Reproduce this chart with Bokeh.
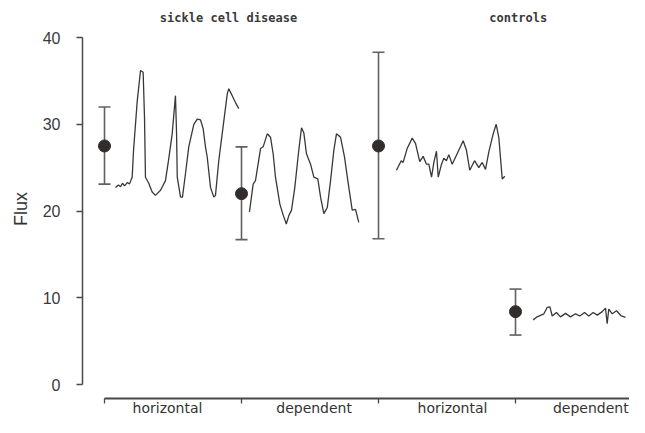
from bokeh.plotting import figure
from bokeh.models import Range1d, FixedTicker, Whisker, ColumnDataSource, TeeHead
from bokeh.core.properties import value
from bokeh.embed import file_html
from bokeh.resources import INLINE

# ---- data ----
groups = ["horizontal", "dependent", "horizontal", "dependent"]
panels = ["sickle cell disease", "controls"]
group_pos = [0, 1, 2, 3]
means = [27.5, 22.0, 27.5, 8.4]
lowers = [23.1, 16.7, 16.8, 5.7]
uppers = [32.0, 27.4, 38.3, 11.0]

# flux tracings (time expressed as fraction of the group slot)
t1 = [0.080, 0.102, 0.117, 0.131, 0.146, 0.168, 0.182, 0.202, 0.212, 0.239, 0.263, 0.282,
      0.292, 0.299, 0.323, 0.348, 0.372, 0.409, 0.445, 0.467, 0.494, 0.518, 0.526, 0.531,
      0.555, 0.569, 0.591, 0.615, 0.652, 0.677, 0.701, 0.720, 0.737, 0.750, 0.774, 0.798,
      0.810, 0.834, 0.859, 0.896, 0.907, 0.932, 0.956, 0.980]
f1 = [22.7, 23.0, 22.8, 23.2, 22.9, 23.3, 23.1, 23.9, 27.0, 32.7, 36.2, 36.0,
      30.8, 23.9, 23.2, 22.2, 21.8, 22.4, 23.5, 25.8, 28.9, 33.3, 28.9, 23.9,
      21.6, 21.6, 24.3, 27.4, 30.0, 30.6, 30.5, 29.5, 27.4, 26.2, 22.7, 21.6,
      21.8, 25.8, 28.9, 33.5, 34.1, 33.3, 32.5, 31.8]

t2 = [0.058, 0.085, 0.102, 0.139, 0.158, 0.188, 0.212, 0.231, 0.248, 0.280, 0.305, 0.327,
      0.346, 0.365, 0.389, 0.418, 0.438, 0.455, 0.474, 0.504, 0.528, 0.557, 0.577, 0.601,
      0.626, 0.650, 0.674, 0.693, 0.723, 0.752, 0.776, 0.808, 0.832, 0.856]
f2 = [19.9, 23.1, 23.5, 27.2, 27.4, 28.9, 28.5, 26.6, 23.9, 20.8, 19.5, 18.5,
      19.5, 20.1, 22.7, 27.0, 29.6, 29.0, 26.6, 25.4, 23.9, 23.7, 21.6, 19.7,
      20.4, 23.5, 27.0, 28.9, 28.5, 26.2, 23.5, 20.1, 20.2, 18.7]

t3 = [0.131, 0.166, 0.180, 0.209, 0.246, 0.270, 0.301, 0.326, 0.350, 0.367, 0.387, 0.404,
      0.423, 0.436, 0.458, 0.477, 0.496, 0.513, 0.538, 0.574, 0.618, 0.642, 0.666, 0.701,
      0.732, 0.757, 0.781, 0.805, 0.837, 0.859, 0.878, 0.903, 0.922]
f3 = [24.7, 25.8, 25.6, 27.2, 28.4, 27.8, 25.7, 26.3, 25.4, 25.4, 23.9, 25.6,
      26.9, 23.9, 25.3, 26.1, 25.8, 26.5, 25.4, 26.6, 28.1, 27.0, 24.7, 25.8,
      25.0, 25.6, 24.8, 26.8, 28.9, 30.0, 28.5, 23.7, 24.0]

t4 = [0.129, 0.158, 0.207, 0.232, 0.251, 0.268, 0.299, 0.328, 0.365, 0.401, 0.438, 0.469,
      0.504, 0.535, 0.567, 0.597, 0.633, 0.657, 0.669, 0.681, 0.706, 0.737, 0.772, 0.803]
f4 = [7.45, 7.8, 8.15, 8.9, 8.95, 7.9, 8.3, 7.8, 8.2, 7.8, 8.15, 7.9,
      8.3, 7.9, 8.3, 8.0, 8.4, 8.8, 7.0, 8.7, 8.15, 8.5, 7.9, 7.75]

y_ticks = [0, 10, 20, 30, 40]

# ---- layout constants ----
label_pos = [0.46, 1.53, 2.54, 3.55]
axis_y = -1.614
panel_pos = [0.905, 3.02]
panel_y = 42.2

p = figure(width=629, height=417, output_backend="svg", toolbar_location=None,
           x_range=Range1d(-0.1606, 3.832), y_range=Range1d(-3.804, 44.27),
           min_border_left=82, min_border_right=0, min_border_top=0, min_border_bottom=0)
p.outline_line_color = None
p.grid.visible = False
p.background_fill_color = "white"

# traces
traces = [(t1, f1), (t2, f2), (t3, f3), (t4, f4)]
for g, (t, f) in zip(group_pos, traces):
    p.line([g + v for v in t], f, line_color="#383838", line_width=1.3)

# error bars
src = ColumnDataSource(dict(x=group_pos, m=means, lo=lowers, up=uppers))
w = Whisker(base="x", upper="up", lower="lo", source=src, dimension="height",
            line_color="#606060", line_width=1.6,
            upper_head=TeeHead(size=12, line_color="#606060", line_width=1.6),
            lower_head=TeeHead(size=12, line_color="#606060", line_width=1.6))
p.add_layout(w)
p.scatter("x", "m", source=src, size=12, fill_color="#322c2c", line_color="#322c2c")

# panel titles
p.text(x=panel_pos, y=[panel_y, panel_y], text=panels, text_align="center",
       text_baseline="middle", text_font=value("DejaVu Sans Mono"), text_font_size="12px",
       text_font_style="bold", text_color="#3a3a3a")

# y axis
ya = p.yaxis[0]
ya.ticker = FixedTicker(ticks=y_ticks)
ya.bounds = (0, 40)
ya.axis_label = "Flux"
ya.axis_label_text_font = "Liberation Sans"
ya.axis_label_text_font_size = "18px"
ya.axis_label_text_font_style = "normal"
ya.axis_label_text_color = "#333333"
ya.axis_label_standoff = 9
ya.major_label_text_font = "Liberation Sans"
ya.major_label_text_font_size = "16px"
ya.major_label_text_color = "#3a3a3a"
ya.major_label_standoff = 16
ya.major_tick_out = 6
ya.major_tick_in = 0
ya.minor_tick_line_color = None
ya.axis_line_color = "#4a4a4a"
ya.axis_line_width = 1.5
ya.major_tick_line_color = "#4a4a4a"
ya.major_tick_line_width = 1.5

# x axis, fixed just below zero; labels between the group ticks
xa = p.xaxis[0]
xa.fixed_location = axis_y
xa.ticker = FixedTicker(ticks=label_pos, minor_ticks=group_pos)
xa.major_label_overrides = {pos: lab for pos, lab in zip(label_pos, groups)}
xa.bounds = (0, 3.832)
xa.major_tick_line_color = None
xa.major_tick_out = 0
xa.major_tick_in = 0
xa.minor_tick_out = 5
xa.minor_tick_in = 0
xa.minor_tick_line_color = "#4b4643"
xa.minor_tick_line_width = 1.3
xa.axis_line_color = "#4b4643"
xa.axis_line_width = 2
xa.major_label_text_font = "DejaVu Sans"
xa.major_label_text_font_size = "14px"
xa.major_label_text_color = "#333333"
xa.major_label_standoff = -4

open("out.html", "w").write(file_html(p, INLINE))
